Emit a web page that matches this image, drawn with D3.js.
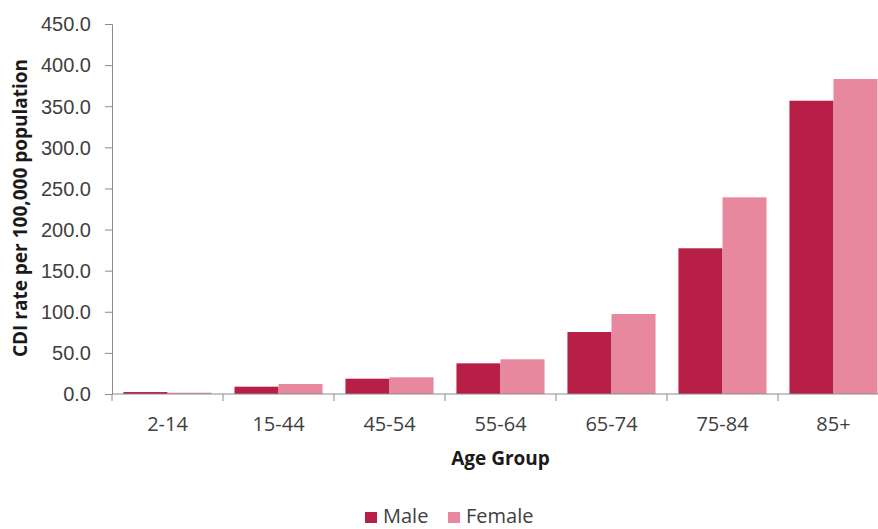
<!DOCTYPE html>
<html>
<head>
<meta charset="utf-8">
<script src="https://cdn.jsdelivr.net/npm/d3@7"></script>
<style>
  html, body { margin: 0; padding: 0; background: #fff; }
  svg { display: block; font-family: "Open Sans", "Noto Sans", sans-serif; }
</style>
</head>
<body>
<svg id="chart" width="878" height="529"></svg>
<script>
// CDI rate per 100,000 population by age group and sex
const ageGroups = ["2-14", "15-44", "45-54", "55-64", "65-74", "75-84", "85+"];
const maleRates = [2.4, 8.9, 18.6, 37.3, 75.4, 177.2, 356.7];
const femaleRates = [1.6, 12.2, 20.3, 42.2, 97.3, 239.2, 383.1];
const yTicks = [0, 50, 100, 150, 200, 250, 300, 350, 400, 450];
const seriesNames = ["Male", "Female"];
const seriesColors = ["#B81F47", "#E8889E"];

const svg = d3.select("#chart");
const plotLeft = 112, plotRight = 889, plotTop = 24, plotBottom = 394;

const x = d3.scaleBand().domain(ageGroups).range([plotLeft, plotRight]).paddingInner(0).paddingOuter(0);
const x1 = d3.scaleBand().domain(seriesNames).range([0, x.bandwidth()]).paddingOuter(0.26).paddingInner(0);
const y = d3.scaleLinear().domain([0, 450]).range([plotBottom, plotTop]);

const rows = ageGroups.map((g, i) => ({ group: g, values: [maleRates[i], femaleRates[i]] }));

// bars
svg.append("g").selectAll("g").data(rows).join("g")
  .attr("transform", d => `translate(${x(d.group)},0)`)
  .selectAll("rect")
  .data(d => d.values.map((v, k) => ({ name: seriesNames[k], v, k })))
  .join("rect")
  .attr("x", d => x1(d.name))
  .attr("width", x1.bandwidth())
  .attr("y", d => y(d.v))
  .attr("height", d => y(0) - y(d.v))
  .attr("fill", d => seriesColors[d.k]);

// y axis
const yAxis = svg.append("g").attr("transform", `translate(${plotLeft},0)`)
  .call(d3.axisLeft(y).tickValues(yTicks).tickFormat(d3.format(".1f")).tickSize(7).tickPadding(14));
yAxis.select(".domain").attr("stroke", "#8c8c8c");
yAxis.selectAll(".tick line").attr("stroke", "#8c8c8c");
yAxis.selectAll(".tick text").attr("fill", "#404040").style("font-size", "20px").attr("dy", "0.34em");

// x axis with ticks at category boundaries
const xAxisG = svg.append("g").attr("transform", `translate(0,${plotBottom})`);
xAxisG.append("line").attr("x1", plotLeft).attr("x2", plotRight).attr("stroke", "#8c8c8c");
xAxisG.selectAll("line.b").data(ageGroups.concat([null])).join("line")
  .attr("class", "b")
  .attr("x1", (d, i) => plotLeft + i * x.bandwidth())
  .attr("x2", (d, i) => plotLeft + i * x.bandwidth())
  .attr("y1", 0).attr("y2", 7).attr("stroke", "#8c8c8c");
xAxisG.selectAll("text").data(ageGroups).join("text")
  .attr("x", d => x(d) + x.bandwidth() / 2)
  .attr("y", 37)
  .attr("text-anchor", "middle")
  .attr("fill", "#404040")
  .style("font-size", "20px")
  .text(d => d);

// axis titles
svg.append("text")
  .attr("x", (plotLeft + plotRight) / 2).attr("y", 465)
  .attr("text-anchor", "middle")
  .style("font-size", "19px").style("font-weight", "bold").attr("fill", "#1a1a1a")
  .text("Age Group");

svg.append("text")
  .attr("transform", "translate(27,208) rotate(-90)")
  .attr("text-anchor", "middle")
  .style("font-size", "19px").style("font-weight", "bold").attr("fill", "#1a1a1a")
  .text("CDI rate per 100,000 population");

// legend
const legend = svg.append("g");
const legendX = [365, 448];
seriesNames.forEach((name, k) => {
  legend.append("rect").attr("x", legendX[k]).attr("y", 512).attr("width", 12).attr("height", 11)
    .attr("fill", seriesColors[k]);
  legend.append("text").attr("x", legendX[k] + 18).attr("y", 523)
    .style("font-size", "20px").attr("fill", "#404040").text(name);
});
</script>
</body>
</html>
